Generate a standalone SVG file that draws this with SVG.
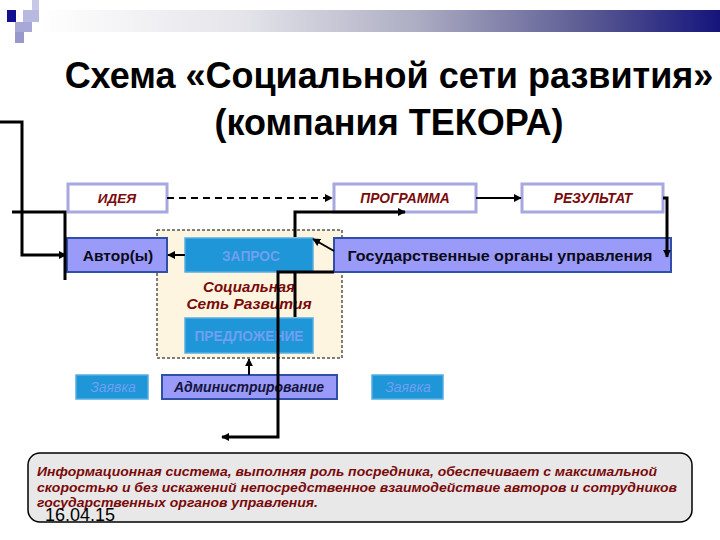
<svg xmlns="http://www.w3.org/2000/svg" width="720" height="540" viewBox="0 0 720 540">
<defs>
<linearGradient id="bar" x1="0" y1="0" x2="1" y2="0">
<stop offset="0" stop-color="#ffffff"/>
<stop offset="0.3" stop-color="#e4e4ea"/>
<stop offset="0.55" stop-color="#aeaec4"/>
<stop offset="0.8" stop-color="#5c5c94"/>
<stop offset="1" stop-color="#14147c"/>
</linearGradient>
<marker id="ah" viewBox="0 0 10 10" refX="9" refY="5" markerWidth="8" markerHeight="8" markerUnits="userSpaceOnUse" orient="auto">
<path d="M0,0 L10,5 L0,10 z" fill="#000"/>
</marker>
</defs>
<style>
.t{font-family:"Liberation Sans",Arial,sans-serif}
.title{font-size:36px;font-weight:bold;fill:#000}
.red{font-style:italic;font-weight:bold;fill:#7a0a0a}
.wbox{fill:#fff;stroke:#a8a8e0;stroke-width:3}
.pbox{fill:#9a9af8;stroke:#2f4fa8;stroke-width:2}
.cbox{fill:#1e96d8;stroke:#55aee2;stroke-width:1.5}
.ctext{font-weight:bold;fill:#6f9ff0;font-size:13.8px}
.btext{font-weight:bold;fill:#0a0a1a;font-size:15.5px}
.ln{fill:none;stroke:#000;stroke-width:3}
.thin{fill:none;stroke:#000;stroke-width:2}
</style>
<rect width="720" height="540" fill="#fff"/>
<g id="decor">
<rect x="40" y="10" width="680" height="22" fill="url(#bar)"/>
<rect x="32" y="0" width="7" height="11" fill="#c8c8e6"/>
<rect x="23" y="10" width="16" height="12" fill="#b8b8e0"/>
<rect x="15" y="22" width="17" height="10" fill="#a8a8d8"/>
<rect x="15" y="32" width="9" height="11" fill="#9898cc"/>
<rect x="7" y="10" width="9" height="12" fill="#101090"/>
</g>
<g id="title" class="t title" text-anchor="middle">
<text x="389" y="88">Схема «Социальной сети развития»</text>
<text x="389" y="135">(компания ТЕКОРА)</text>
</g>
<g id="container">
<rect x="157" y="230" width="185" height="128" fill="#fdf5df" stroke="#000" stroke-width="1" stroke-dasharray="3,2"/>
<text class="t red" x="249" y="292" font-size="15" text-anchor="middle">Социальная</text>
<text class="t red" x="249" y="309" font-size="15.5" text-anchor="middle">Сеть Развития</text>
</g>
<g id="idea"><rect class="wbox" x="68" y="184" width="99" height="28"/><text class="t red" x="117" y="203" font-size="13.5" text-anchor="middle">ИДЕЯ</text></g>
<g id="program"><rect class="wbox" x="334" y="184" width="142" height="28"/><text class="t red" x="405" y="203" font-size="13.8" text-anchor="middle">ПРОГРАММА</text></g>
<g id="result"><rect class="wbox" x="522" y="184" width="141" height="28"/><text class="t red" x="593" y="203" font-size="13.8" text-anchor="middle">РЕЗУЛЬТАТ</text></g>
<g id="author"><rect class="pbox" x="67" y="238" width="100" height="34"/><text class="t btext" x="118" y="261" text-anchor="middle">Автор(ы)</text></g>
<g id="zapros"><rect class="cbox" x="185" y="238" width="128" height="34"/><text class="t ctext" x="251" y="261" text-anchor="middle">ЗАПРОС</text></g>
<g id="gov"><rect class="pbox" x="334" y="238" width="337" height="34"/><text class="t btext" x="500" y="261" text-anchor="middle" textLength="305" lengthAdjust="spacingAndGlyphs">Государственные органы управления</text></g>
<g id="predl"><rect class="cbox" x="185" y="318" width="128" height="35"/><text class="t ctext" x="249" y="341" text-anchor="middle">ПРЕДЛОЖЕНИЕ</text></g>
<g id="zayavka1"><rect class="cbox" x="76" y="375" width="72" height="24"/><text class="t" x="113" y="392" font-size="14" font-style="italic" fill="#6f9ff0" text-anchor="middle">Заявка</text></g>
<g id="admin"><rect class="pbox" x="162" y="375" width="175" height="24"/><text class="t" x="249" y="392" font-size="14" font-style="italic" font-weight="bold" fill="#14143c" text-anchor="middle">Администрирование</text></g>
<g id="zayavka2"><rect class="cbox" x="372" y="375" width="71" height="24"/><text class="t" x="408" y="392" font-size="14" font-style="italic" fill="#6f9ff0" text-anchor="middle">Заявка</text></g>
<g id="connectors">
<path class="thin" d="M167 198 H332" stroke-dasharray="7,5" marker-end="url(#ah)"/>
<path class="thin" d="M476 198 H521" stroke-width="1.5" marker-end="url(#ah)"/>
<path class="ln" d="M663 198 H667 V257" marker-end="url(#ah)"/>
<path class="ln" d="M0 122 H22 V255 H66" marker-end="url(#ah)"/>
<path class="ln" d="M12 212 H65 V280"/>
<path class="ln" d="M295 237 V212 H405" marker-end="url(#ah)"/>
<path class="ln" d="M295 272 V317"/>
<path class="thin" d="M185 255 H168" marker-end="url(#ah)"/>
<path class="thin" d="M334 251 L313 239" marker-end="url(#ah)"/>
<path class="thin" d="M249 375 V359" marker-end="url(#ah)"/>
<path class="ln" d="M334 272 H278 V437 H222" marker-end="url(#ah)"/>
</g>
<g id="note">
<rect x="28" y="453" width="664" height="69" rx="12" fill="#e8e8e8" stroke="#000" stroke-width="1.5"/>
<g class="t red" font-size="13">
<text x="37" y="476" textLength="620" lengthAdjust="spacingAndGlyphs">Информационная система, выполняя роль посредника, обеспечивает с максимальной</text>
<text x="37" y="492" textLength="640" lengthAdjust="spacingAndGlyphs">скоростью и без искажений непосредственное взаимодействие авторов и сотрудников</text>
<text x="37" y="507" textLength="281" lengthAdjust="spacingAndGlyphs">государственных органов управления.</text>
</g>
</g>
<text class="t" x="45" y="521" font-size="18" fill="#000">16.04.15</text>
</svg>
